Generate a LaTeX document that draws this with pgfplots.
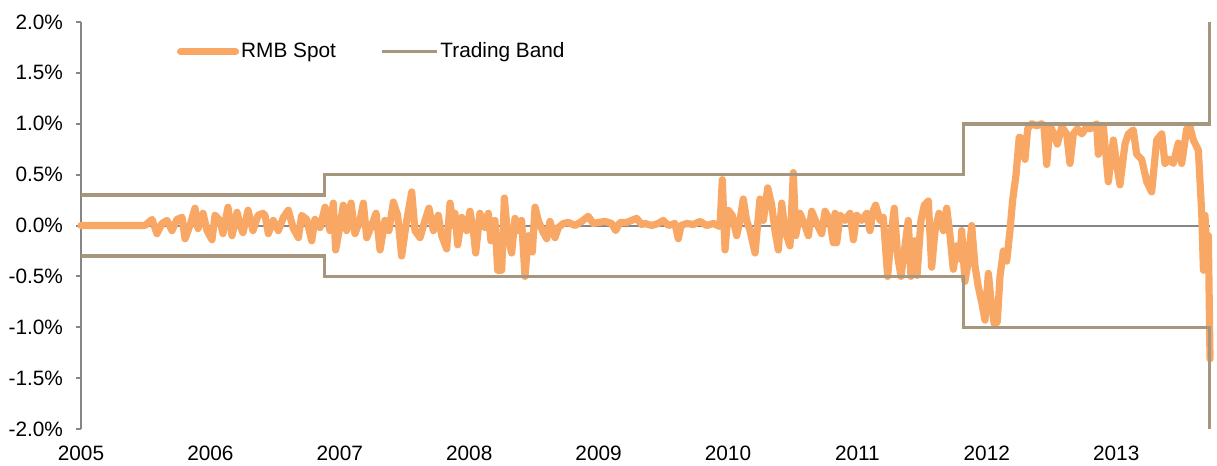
\documentclass[border=0pt]{standalone}
\usepackage{pgfplots}
\pgfplotsset{compat=1.18}
\usepackage{fontspec}
\setmainfont{Liberation Sans}
\definecolor{spot}{RGB}{248,168,100}
\definecolor{band}{RGB}{166,150,126}
\definecolor{axgray}{RGB}{134,134,134}
\begin{document}
\begin{tikzpicture}
\begin{axis}[
  scale only axis,
  width=564.5bp, height=203.5bp,
  xmin=2005, xmax=2013.725,
  ymin=-2, ymax=2,
  clip=false,
  axis y line*=left,
  axis x line*=bottom,
  x axis line style={draw=none},
  y axis line style={axgray, line width=1bp},
  ytick={-2,-1.5,-1,-0.5,0,0.5,1,1.5,2},
  yticklabels={-2.0\%,-1.5\%,-1.0\%,-0.5\%,0.0\%,0.5\%,1.0\%,1.5\%,2.0\%},
  xtick={2005,2006,2007,2008,2009,2010,2011,2012,2013},
  xticklabels={2005,2006,2007,2008,2009,2010,2011,2012,2013},
  tick align=outside,
  major tick length=2.5bp,
  ytick style={axgray, line width=1bp},
  xtick style={draw=none},
  tick label style={font=\fontsize{10.4bp}{12bp}\selectfont, text=black},
  yticklabel style={anchor=east, xshift=-3bp},
  xticklabel style={anchor=north, yshift=-2.7bp},
  legend style={draw=none, fill=none, inner sep=0pt, outer sep=0pt,
    at={(rel axis cs:0.085,0.927)}, anchor=west,
    font=\fontsize{10.4bp}{12bp}\selectfont,
    nodes={inner xsep=1bp},
    /tikz/every odd column/.append style={column sep=0bp},
    /tikz/every even column/.append style={column sep=21bp}},
  legend columns=2,
  legend cell align=left,
  legend image code/.code={\draw[#1] (0bp,0bp) -- (27.5bp,0bp);},
]
\addplot[forget plot, color=axgray, line width=1bp] coordinates {(2005,0) (2013.725,0)};
\addplot[color=spot, line width=3.6bp, line join=round, line cap=round] coordinates {
(2005.000,0.00) (2005.495,0.00) (2005.549,0.06) (2005.587,-0.08) (2005.626,0.02)
(2005.665,0.05) (2005.703,-0.05) (2005.742,0.06) (2005.781,0.08) (2005.804,-0.13)
(2005.842,0.00) (2005.881,0.17) (2005.904,-0.03) (2005.943,0.12) (2005.974,-0.05)
(2006.012,-0.14) (2006.036,0.10) (2006.074,0.05) (2006.097,-0.08) (2006.136,0.18)
(2006.167,-0.10) (2006.206,0.13) (2006.229,0.00) (2006.252,-0.07) (2006.291,0.15)
(2006.329,-0.05) (2006.368,0.10) (2006.406,0.12) (2006.422,0.10) (2006.448,-0.08)
(2006.486,0.05) (2006.525,-0.05) (2006.564,0.08) (2006.602,0.15) (2006.641,-0.03)
(2006.680,-0.12) (2006.705,0.10) (2006.744,0.06) (2006.783,-0.15) (2006.808,0.06)
(2006.847,-0.02) (2006.886,0.18) (2006.924,-0.05) (2006.950,0.22) (2006.968,-0.24)
(2007.002,0.00) (2007.027,0.20) (2007.053,-0.05) (2007.087,0.22) (2007.117,-0.08)
(2007.156,0.05) (2007.182,0.22) (2007.208,-0.12) (2007.246,0.00) (2007.280,0.12)
(2007.311,-0.24) (2007.349,0.05) (2007.380,-0.05) (2007.414,0.23) (2007.447,0.10)
(2007.478,-0.30) (2007.517,0.05) (2007.556,0.33) (2007.581,-0.05) (2007.620,-0.12)
(2007.658,0.05) (2007.689,0.17) (2007.723,-0.05) (2007.761,0.10) (2007.787,-0.10)
(2007.826,-0.23) (2007.852,0.22) (2007.877,0.00) (2007.890,0.12) (2007.911,-0.19)
(2007.942,0.08) (2007.981,-0.05) (2008.006,0.14) (2008.032,-0.05) (2008.050,-0.27)
(2008.083,0.12) (2008.122,-0.02) (2008.148,0.12) (2008.168,-0.15) (2008.199,0.05)
(2008.220,-0.44) (2008.251,-0.44) (2008.272,0.27) (2008.297,-0.10) (2008.328,-0.27)
(2008.354,0.07) (2008.380,-0.05) (2008.405,0.05) (2008.431,-0.50) (2008.457,-0.10)
(2008.488,-0.26) (2008.509,0.18) (2008.534,0.05) (2008.565,-0.05) (2008.599,-0.13)
(2008.624,0.04) (2008.663,-0.12) (2008.689,-0.02) (2008.727,0.02) (2008.766,0.03)
(2008.818,0.00) (2008.869,0.04) (2008.920,0.09) (2008.959,0.02) (2008.998,0.03)
(2009.049,0.04) (2009.101,0.02) (2009.132,-0.05) (2009.165,0.03) (2009.217,0.03)
(2009.256,0.05) (2009.294,0.07) (2009.333,0.01) (2009.359,0.02) (2009.410,0.00)
(2009.461,0.02) (2009.500,0.05) (2009.539,0.00) (2009.590,0.02) (2009.616,-0.13)
(2009.637,0.00) (2009.681,0.02) (2009.732,0.01) (2009.784,0.04) (2009.835,0.00)
(2009.887,0.02) (2009.938,-0.01) (2009.956,0.45) (2009.977,-0.24) (2010.002,0.15)
(2010.033,0.10) (2010.067,-0.10) (2010.093,0.05) (2010.118,0.26) (2010.144,0.05)
(2010.170,-0.05) (2010.209,-0.27) (2010.247,0.26) (2010.273,0.05) (2010.307,0.37)
(2010.338,0.20) (2010.363,-0.05) (2010.389,-0.24) (2010.415,0.22) (2010.440,-0.05)
(2010.479,-0.20) (2010.505,0.52) (2010.523,-0.10) (2010.556,0.12) (2010.595,0.00)
(2010.621,-0.10) (2010.647,0.14) (2010.685,0.02) (2010.724,-0.08) (2010.750,0.14)
(2010.788,0.05) (2010.814,-0.17) (2010.827,0.12) (2010.840,-0.17) (2010.866,0.10)
(2010.904,0.05) (2010.943,0.12) (2010.969,-0.14) (2010.995,0.10) (2011.033,0.05)
(2011.072,0.12) (2011.097,-0.05) (2011.123,0.15) (2011.141,0.20) (2011.175,0.05)
(2011.200,0.08) (2011.234,-0.50) (2011.260,-0.10) (2011.285,0.17) (2011.311,-0.30)
(2011.337,-0.50) (2011.368,-0.20) (2011.393,0.05) (2011.414,-0.50) (2011.440,-0.15)
(2011.461,-0.49) (2011.491,0.05) (2011.517,0.20) (2011.548,0.24) (2011.574,-0.41)
(2011.600,-0.05) (2011.631,0.12) (2011.664,-0.05) (2011.690,0.17) (2011.716,-0.10)
(2011.741,-0.43) (2011.767,-0.20) (2011.793,-0.33) (2011.806,-0.05) (2011.831,-0.55)
(2011.857,-0.35) (2011.883,0.00) (2011.909,-0.40) (2011.934,-0.60) (2011.960,-0.75)
(2011.986,-0.93) (2012.012,-0.47) (2012.038,-0.80) (2012.058,-0.97) (2012.081,-0.95)
(2012.102,-0.50) (2012.128,-0.25) (2012.154,-0.35) (2012.179,-0.05) (2012.200,0.25)
(2012.226,0.50) (2012.251,0.87) (2012.277,0.85) (2012.295,0.65) (2012.316,0.95)
(2012.347,1.00) (2012.386,0.98) (2012.424,1.00) (2012.442,0.97) (2012.463,0.60)
(2012.489,0.98) (2012.519,0.90) (2012.545,0.80) (2012.579,0.97) (2012.617,0.90)
(2012.643,0.61) (2012.669,0.90) (2012.700,0.95) (2012.734,0.90) (2012.772,0.97)
(2012.798,0.95) (2012.849,1.00) (2012.862,0.70) (2012.900,0.98) (2012.939,0.43)
(2012.978,0.84) (2013.004,0.60) (2013.029,0.40) (2013.068,0.80) (2013.094,0.90)
(2013.132,0.94) (2013.158,0.70) (2013.197,0.65) (2013.236,0.43) (2013.274,0.33)
(2013.313,0.84) (2013.352,0.90) (2013.377,0.61) (2013.410,0.65) (2013.441,0.61)
(2013.480,0.81) (2013.506,0.61) (2013.545,0.95) (2013.570,0.97) (2013.596,0.84)
(2013.635,0.74) (2013.661,0.12) (2013.674,-0.44) (2013.686,0.10) (2013.699,-0.20)
(2013.712,-0.10) (2013.725,-1.31)
};
\addlegendentry{RMB Spot}
\addplot[color=band, line width=1.75bp] coordinates {
(2005,0.3) (2006.88,0.3) (2006.88,0.5) (2011.82,0.5) (2011.82,1.0) (2013.72,1.0) (2013.72,2.0)};
\addlegendentry{Trading Band}
\addplot[forget plot, color=band, line width=1.75bp] coordinates {
(2005,-0.3) (2006.88,-0.3) (2006.88,-0.5) (2011.82,-0.5) (2011.82,-1.0) (2013.72,-1.0) (2013.72,-2.0)};
\coordinate (sw) at (rel axis cs:0,0);
\coordinate (ne) at (rel axis cs:1,1);
\end{axis}
\pgfresetboundingbox
\path[use as bounding box] ([xshift=-40.5bp,yshift=-18bp]sw) rectangle ([xshift=3.5bp,yshift=11bp]ne);
\end{tikzpicture}
\end{document}
